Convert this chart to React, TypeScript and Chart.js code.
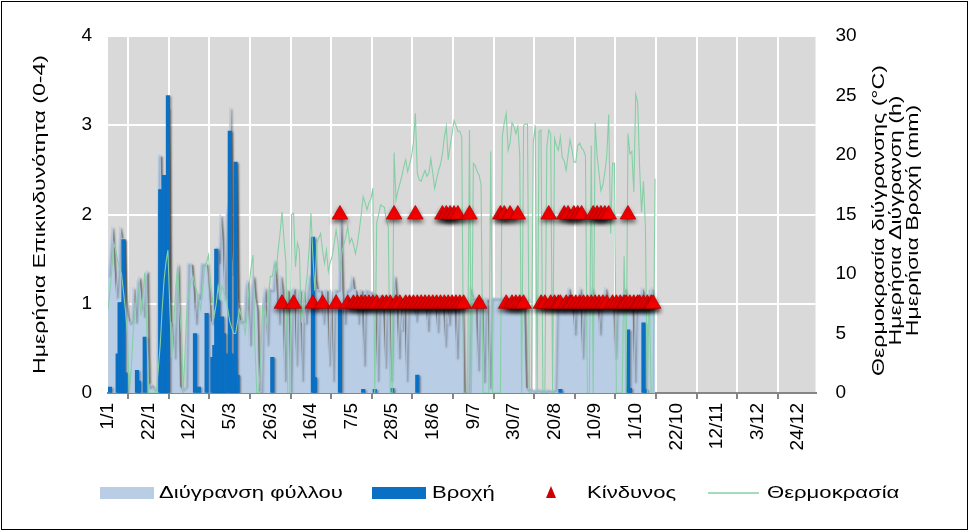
import React, { useEffect, useRef } from "react";
import { Chart, registerables } from "chart.js";

// ---------- data ----------
const TICK_LABELS = ["1/1", "22/1", "12/2", "5/3", "26/3", "16/4", "7/5", "28/5", "18/6", "9/7", "30/7", "20/8", "10/9", "1/10", "22/10", "12/11", "3/12", "24/12"];
const TICK_STEP_DAYS = 21;
const AXIS_MAX_DAY = 366;

// daily temperature (°C), day 0 = 1/1
const TEMP = [
  7.0, 8.5, 10.5, 12.6, 12.0, 11.1, 10.5, 10.0, 8.5, 7.0,
  5.0, 0, 2.0, 5.0, 7.0, 8.0, 8.9, 6.5, 8.0, 10.1,
  6.0, 0, 0, 0, 0, 0, 2.0, 4.0, 7.0, 9.5,
  11.0, 12.0, 7.0, 3.0, 6.0, 8.5, 10.6, 7.0, 5.0, 0,
  4.0, 7.5, 8.5, 9.5, 9.8, 9.0, 8.5, 7.8, 7.0, 9.0,
  10.6, 11.0, 11.6, 9.0, 8.0, 6.5, 7.5, 9.0, 8.0, 9.0,
  8.5, 7.9, 7.0, 6.0, 5.5, 5.0, 5.0, 6.0, 7.0, 6.5,
  5.9, 5.0, 6.7, 9.0, 10.5, 11.6, 4.0, 0, 0, 3.0,
  7.3, 6.8, 5.9, 8.0, 9.8, 9.8, 10.8, 10.2, 12.0, 13.4,
  15.2, 13.0, 11.0, 0, 0, 15.0, 15.1, 10.6, 12.6, 12.0,
  5.9, 7.5, 8.5, 9.8, 12.0, 15.1, 11.5, 8.6, 12.6, 13.0,
  13.4, 12.0, 10.9, 12.0, 10.2, 11.0, 11.5, 12.5, 13.7, 12.6,
  10.2, 11.8, 12.5, 13.1, 14.0, 12.6, 13.0, 12.5, 11.7, 12.5,
  13.7, 15.0, 16.5, 16.0, 15.4, 16.0, 16.3, 17.2, 0, 14.3,
  15.0, 15.8, 15.7, 15.6, 14.5, 14.0, 0, 0, 20.2, 16.2,
  17.0, 17.6, 18.2, 19.0, 19.6, 18.6, 19.2, 19.9, 21.0, 23.5,
  18.5, 17.9, 17.8, 18.3, 18.7, 18.2, 18.5, 19.7, 18.5, 17.2,
  18.0, 18.7, 19.2, 20.1, 21.5, 22.4, 19.6, 20.8, 21.8, 22.9,
  22.5, 22.0, 22.0, 21.5, 0, 0, 0, 22.1, 0, 19.3,
  19.1, 18.6, 18.3, 17.5, 0, 0, 0, 0, 20.3, 0,
  0, 0, 0, 0, 21.6, 22.7, 23.5, 20.4, 21.0, 22.7,
  22.4, 21.8, 22.4, 20.0, 0, 22.5, 22.6, 22.6, 0, 0,
  21.0, 22.5, 0, 22.0, 22.1, 0, 0, 20.7, 22.1, 21.8,
  0, 21.4, 20.8, 20.4, 21.5, 19.8, 19.5, 18.7, 20.0, 21.3,
  20.5, 19.4, 19.4, 20.8, 21.0, 20.6, 20.4, 19.9, 0, 0,
  20.8, 0, 22.7, 20.0, 18.5, 17.0, 17.5, 18.5, 19.9, 23.4,
  13.4, 19.3, 19.3, 0, 0, 0, 0, 11.5, 0, 21.8,
  20.1, 20.3, 16.9, 25.1, 24.4, 19.0, 15.2, 17.8, 14.0, 0,
  8.7, 0, 0, 18.0,
];

// daily leaf wetness (h), day 0 = 1/1
const WETNESS = [
  9.9, 12.0, 14.0, 10.9, 8.1, 10.0, 14.0, 12.9, 13.0, 8.0,
  6.5, 5.9, 6.1, 8.9, 6.0, 9.4, 9.8, 8.0, 6.5, 10.0,
  10.3, 0.5, 0.8, 0.5, 0.3, 0.5, 20.0, 20.0, 8.0, 18.0,
  12.0, 24.0, 6.0, 5.9, 3.0, 9.0, 10.9, 0.6, 0.3, 0.5,
  0.6, 10.9, 10.9, 10.9, 8.9, 5.9, 8.5, 8.0, 10.9, 10.9,
  10.9, 10.9, 8.5, 6.0, 5.9, 9.0, 12.3, 11.0, 15.0, 13.0,
  8.0, 14.9, 16.0, 24.0, 10.0, 12.0, 19.4, 8.0, 6.0, 6.1,
  6.1, 9.0, 9.5, 4.1, 8.9, 9.9, 8.0, 7.0, 0.1, 0.1,
  8.0, 8.9, 4.1, 8.9, 8.7, 8.7, 11.2, 8.7, 5.9, 9.9,
  8.7, 1.1, 8.7, 8.7, 0.1, 8.7, 8.9, 2.4, 8.7, 8.7,
  1.1, 8.7, 5.9, 8.7, 9.9, 9.9, 13.1, 9.7, 8.7, 8.7,
  8.7, 5.9, 8.7, 8.7, 2.4, 8.7, 1.1, 8.7, 8.7, 8.7,
  14.8, 8.7, 5.9, 8.7, 8.7, 8.9, 9.9, 8.7, 8.7, 5.9,
  8.7, 8.7, 2.4, 8.7, 8.7, 8.5, 8.5, 8.5, 8.3, 1.1,
  8.2, 8.2, 8.0, 2.2, 8.0, 8.0, 1.1, 8.0, 9.9, 8.0,
  3.0, 8.0, 5.3, 8.0, 1.1, 8.0, 8.0, 8.0, 8.0, 6.1,
  8.0, 8.0, 8.0, 8.0, 8.0, 5.3, 8.0, 8.0, 8.0, 8.0,
  5.2, 8.0, 8.0, 8.0, 4.0, 8.0, 5.8, 8.0, 8.0, 8.0,
  3.0, 8.0, 8.0, 8.0, 0, 0, 0, 8.9, 8.0, 8.0,
  8.0, 2.0, 8.0, 8.0, 1.0, 8.0, 8.0, 0.5, 8.0, 8.0,
  8.0, 8.0, 8.0, 8.0, 8.0, 8.0, 8.0, 8.0, 8.0, 8.0,
  8.0, 8.0, 8.0, 8.0, 8.0, 8.0, 0.5, 0.3, 0.5, 0.3,
  0.2, 0.3, 0.4, 0.2, 0.3, 0.3, 0.2, 0.3, 0.3, 0.2,
  0.3, 0.3, 8.0, 8.0, 8.0, 8.0, 8.0, 8.0, 8.9, 8.0,
  8.0, 5.0, 8.0, 8.0, 8.9, 3.0, 8.0, 8.0, 8.0, 8.0,
  8.9, 8.0, 8.0, 8.0, 5.0, 8.0, 8.0, 8.9, 8.0, 8.0,
  8.0, 8.0, 3.0, 8.0, 8.0, 8.0, 8.0, 8.9, 8.0, 8.0,
  8.0, 8.0, 1.0, 8.0, 8.0, 8.0, 8.9, 8.0, 8.0, 8.0,
  8.0, 8.9, 8.0, 8.0,
];

// daily rain (mm): day index and amount
const RAIN_DAY = [1, 5, 6, 7, 8, 9, 15, 16, 19, 27, 28, 29, 30, 31, 45, 47, 51, 54, 55, 56, 57, 58, 59, 60, 61, 63, 64, 65, 66, 67, 85, 106, 107, 120, 132, 138, 147, 160, 234, 269, 270, 277, 278];
const RAIN_MM = [0.5, 3.3, 7.6, 7.6, 12.9, 1.7, 1.9, 1.0, 4.7, 17.1, 2.0, 18.3, 3.0, 25.0, 5.0, 0.5, 6.7, 3.0, 4.0, 12.1, 7.8, 5.9, 6.4, 5.0, 3.3, 22.0, 3.3, 3.0, 19.4, 1.5, 3.0, 13.1, 1.3, 7.0, 0.3, 0.3, 0.4, 1.5, 0.3, 5.3, 0.4, 5.9, 0.3];

// daily risk (0-4): day index and level
const RISK_DAY = [90, 96, 106, 111, 118, 120, 124, 127, 129, 131, 133, 135, 137, 139, 142, 144, 146, 148, 149, 151, 154, 156, 158, 159, 160, 162, 164, 166, 168, 170, 172, 173, 174, 175, 176, 177, 178, 179, 180, 181, 182, 184, 187, 192, 203, 205, 206, 208, 209, 211, 212, 213, 215, 224, 226, 228, 229, 231, 233, 234, 236, 237, 238, 239, 240, 241, 242, 243, 244, 245, 246, 248, 250, 251, 252, 253, 254, 255, 256, 257, 258, 259, 261, 263, 265, 267, 268, 269, 270, 272, 274, 275, 277, 279, 281, 282];
const RISK_LEVEL = [1, 1, 1, 1, 1, 2, 1, 1, 1, 1, 1, 1, 1, 1, 1, 1, 1, 2, 1, 1, 1, 1, 1, 2, 1, 1, 1, 1, 1, 1, 1, 2, 1, 2, 1, 2, 1, 2, 1, 2, 1, 1, 2, 1, 2, 2, 1, 2, 1, 1, 2, 1, 1, 1, 1, 2, 1, 1, 1, 1, 2, 1, 2, 1, 1, 2, 1, 2, 1, 2, 1, 1, 1, 2, 1, 2, 1, 2, 1, 2, 1, 2, 1, 1, 1, 1, 1, 2, 1, 1, 1, 1, 1, 1, 1, 1];

const SERIES_NAMES = ["Διύγρανση φύλλου", "Βροχή", "Κίνδυνος", "Θερμοκρασία"];
const LEFT_TITLE = "Ημερήσια Επικινδυνότητα (0-4)";
const RIGHT_TITLES = ["Θερμοκρασία διύγρανσης (°C)", "Ημερήσια Διύγρανση (h)", "Ημερήσια Βροχή (mm)"];

// ---------- style ----------
const W = 969;
const H = 531;
const FONT = '"Liberation Sans", Arial, sans-serif';
const LEGEND_PX = 17;
const LEGEND_STRETCH = 1.3;
const TITLE_PX = 16.5;
const TITLE_STRETCH = 1.4;
const C_WET = "#B9CDE5";
const C_RAIN = "#0A70C4";
const C_RISK = "#FF0000";
const C_TEMP = "#86CFA6";
const C_PLOT = "#D9D9D9";

const shadowPlugin = {
  id: "seriesShadow",
  beforeDatasetDraw(chart: any, args: any) {
    const ds = chart.data.datasets[args.index];
    const ctx = chart.ctx;
    ctx.save();
    const s = ds && ds.shadow;
    if (s) {
      ctx.shadowColor = s.color;
      ctx.shadowBlur = s.blur;
      ctx.shadowOffsetX = s.x;
      ctx.shadowOffsetY = s.y;
    }
  },
  afterDatasetDraw(chart: any) {
    chart.ctx.restore();
  },
};

Chart.register(shadowPlugin);
Chart.register(...registerables);

function stretchedText(ctx: CanvasRenderingContext2D, text: string, x: number, y: number, rotate: boolean, align: CanvasTextAlign, px: number, stretch: number) {
  ctx.save();
  ctx.font = `${px}px ${FONT}`;
  ctx.translate(x, y);
  if (rotate) ctx.rotate(-Math.PI / 2);
  ctx.scale(stretch, 1);
  ctx.textAlign = align;
  ctx.textBaseline = "middle";
  ctx.fillText(text, 0, 0);
  ctx.restore();
}

const decorPlugin = {
  id: "decor",
  beforeDraw(chart: any) {
    const { ctx, chartArea } = chart;
    ctx.save();
    ctx.fillStyle = "#FFFFFF";
    ctx.fillRect(0, 0, W, H);
    ctx.fillStyle = C_PLOT;
    ctx.fillRect(chartArea.left, chartArea.top, chartArea.right - chartArea.left, chartArea.bottom - chartArea.top);
    ctx.restore();
  },
  afterDraw(chart: any) {
    const { ctx, chartArea } = chart;
    const midY = (chartArea.top + chartArea.bottom) / 2;
    ctx.save();
    ctx.fillStyle = "#000";
    // axis titles
    stretchedText(ctx, LEFT_TITLE, 40, midY, true, "center", TITLE_PX, TITLE_STRETCH);
    const rx = [879, 896, 913];
    RIGHT_TITLES.forEach((t, i) => stretchedText(ctx, t, rx[i], midY + 6, true, "center", TITLE_PX, TITLE_STRETCH));
    // legend
    const ly = 493;
    ctx.fillStyle = C_WET;
    ctx.fillRect(100, ly - 6, 54, 12);
    ctx.fillStyle = "#000";
    stretchedText(ctx, SERIES_NAMES[0], 159, ly, false, "left", LEGEND_PX, LEGEND_STRETCH);
    ctx.fillStyle = C_RAIN;
    ctx.fillRect(372, ly - 6, 54, 12);
    ctx.fillStyle = "#000";
    stretchedText(ctx, SERIES_NAMES[1], 432, ly, false, "left", LEGEND_PX, LEGEND_STRETCH);
    ctx.fillStyle = "#D00000";
    ctx.beginPath();
    ctx.moveTo(551, ly - 7);
    ctx.lineTo(556, ly + 5);
    ctx.lineTo(546, ly + 5);
    ctx.closePath();
    ctx.fill();
    ctx.fillStyle = "#000";
    stretchedText(ctx, SERIES_NAMES[2], 587, ly, false, "left", LEGEND_PX, LEGEND_STRETCH);
    ctx.strokeStyle = C_TEMP;
    ctx.lineWidth = 1.5;
    ctx.beginPath();
    ctx.moveTo(708, ly);
    ctx.lineTo(759, ly);
    ctx.stroke();
    stretchedText(ctx, SERIES_NAMES[3], 767, ly, false, "left", LEGEND_PX, LEGEND_STRETCH);
    // outer border
    ctx.strokeStyle = "#000";
    ctx.lineWidth = 1;
    ctx.strokeRect(1.5, 1.5, W - 3, H - 3);
    ctx.restore();
  },
};

export default function App() {
  const ref = useRef<HTMLCanvasElement | null>(null);

  useEffect(() => {
    if (!ref.current) return;
    Chart.defaults.font.family = FONT;
    const chart = new Chart(ref.current, {
      type: "line",
      data: {
        datasets: [
          {
            type: "line",
            label: SERIES_NAMES[2],
            data: RISK_DAY.map((d, i) => ({ x: d, y: RISK_LEVEL[i] })),
            yAxisID: "y",
            showLine: false,
            pointStyle: "triangle",
            pointRadius: 9,
            pointBackgroundColor: C_RISK,
            pointBorderColor: "#C00000",
            pointBorderWidth: 0.8,
            order: 0,
            shadow: { color: "rgba(0,0,0,0.55)", blur: 4, x: 0, y: 3 },
          } as any,
          {
            type: "line",
            label: SERIES_NAMES[3],
            data: TEMP.map((v, i) => ({ x: i, y: v })),
            yAxisID: "y2",
            borderColor: C_TEMP,
            borderWidth: 1.1,
            pointRadius: 0,
            tension: 0,
            fill: false,
            order: 1,
          } as any,
          {
            type: "bar",
            label: SERIES_NAMES[1],
            data: RAIN_DAY.map((d, i) => ({ x: d, y: RAIN_MM[i] })),
            yAxisID: "y2",
            backgroundColor: C_RAIN,
            barThickness: 3.5,
            order: 2,
            shadow: { color: "rgba(0,0,0,0.35)", blur: 2, x: 1.5, y: 1 },
          } as any,
          {
            type: "line",
            label: SERIES_NAMES[0],
            data: WETNESS.map((v, i) => ({ x: i, y: v })),
            yAxisID: "y2",
            borderColor: C_WET,
            backgroundColor: C_WET,
            borderWidth: 0.8,
            pointRadius: 0,
            tension: 0,
            fill: "origin",
            order: 3,
            shadow: { color: "rgba(0,0,0,0.45)", blur: 2, x: 2, y: 2 },
          } as any,
        ],
      },
      options: {
        responsive: false,
        animation: false,
        events: [],
        layout: { padding: { top: 36, left: 0, right: 0, bottom: 0 } },
        plugins: { legend: { display: false }, tooltip: { enabled: false } },
        scales: {
          x: {
            type: "linear",
            min: 0,
            max: AXIS_MAX_DAY,
            offset: false,
            afterBuildTicks: (scale: any) => {
              scale.ticks = TICK_LABELS.map((_, i) => ({ value: i * TICK_STEP_DAYS }));
            },
            ticks: {
              autoSkip: false,
              maxRotation: 90,
              minRotation: 90,
              padding: 4,
              color: "#000",
              font: { size: 19, family: FONT },
              callback: (_v: any, i: number) => TICK_LABELS[i],
            },
            grid: { color: "#FFFFFF", lineWidth: 2, tickColor: "#868686", tickLength: 6, tickWidth: 2 },
            border: { color: "#868686", width: 2 },
            afterFit: (s: any) => {
              s.height = 138;
            },
          },
          y: {
            position: "left",
            min: 0,
            max: 4,
            ticks: { stepSize: 1, padding: 16, color: "#000", font: { size: 19, family: FONT } },
            grid: { color: "#FFFFFF", lineWidth: 2, drawTicks: false },
            border: { display: false },
            afterFit: (s: any) => {
              s.width = 108;
            },
          },
          y2: {
            position: "right",
            min: 0,
            max: 30,
            ticks: { stepSize: 5, padding: 20, color: "#000", font: { size: 19, family: FONT } },
            grid: { drawOnChartArea: false, drawTicks: false },
            border: { display: false },
            afterFit: (s: any) => {
              s.width = W - 815.5;
            },
          },
        },
      } as any,
      plugins: [decorPlugin],
    });
    return () => chart.destroy();
  }, []);

  return (
    <div style={{ position: "absolute", left: 0, top: 0, width: W, height: H, background: "#fff" }}>
      <canvas ref={ref} width={W} height={H} style={{ width: W, height: H, display: "block" }} />
    </div>
  );
}
